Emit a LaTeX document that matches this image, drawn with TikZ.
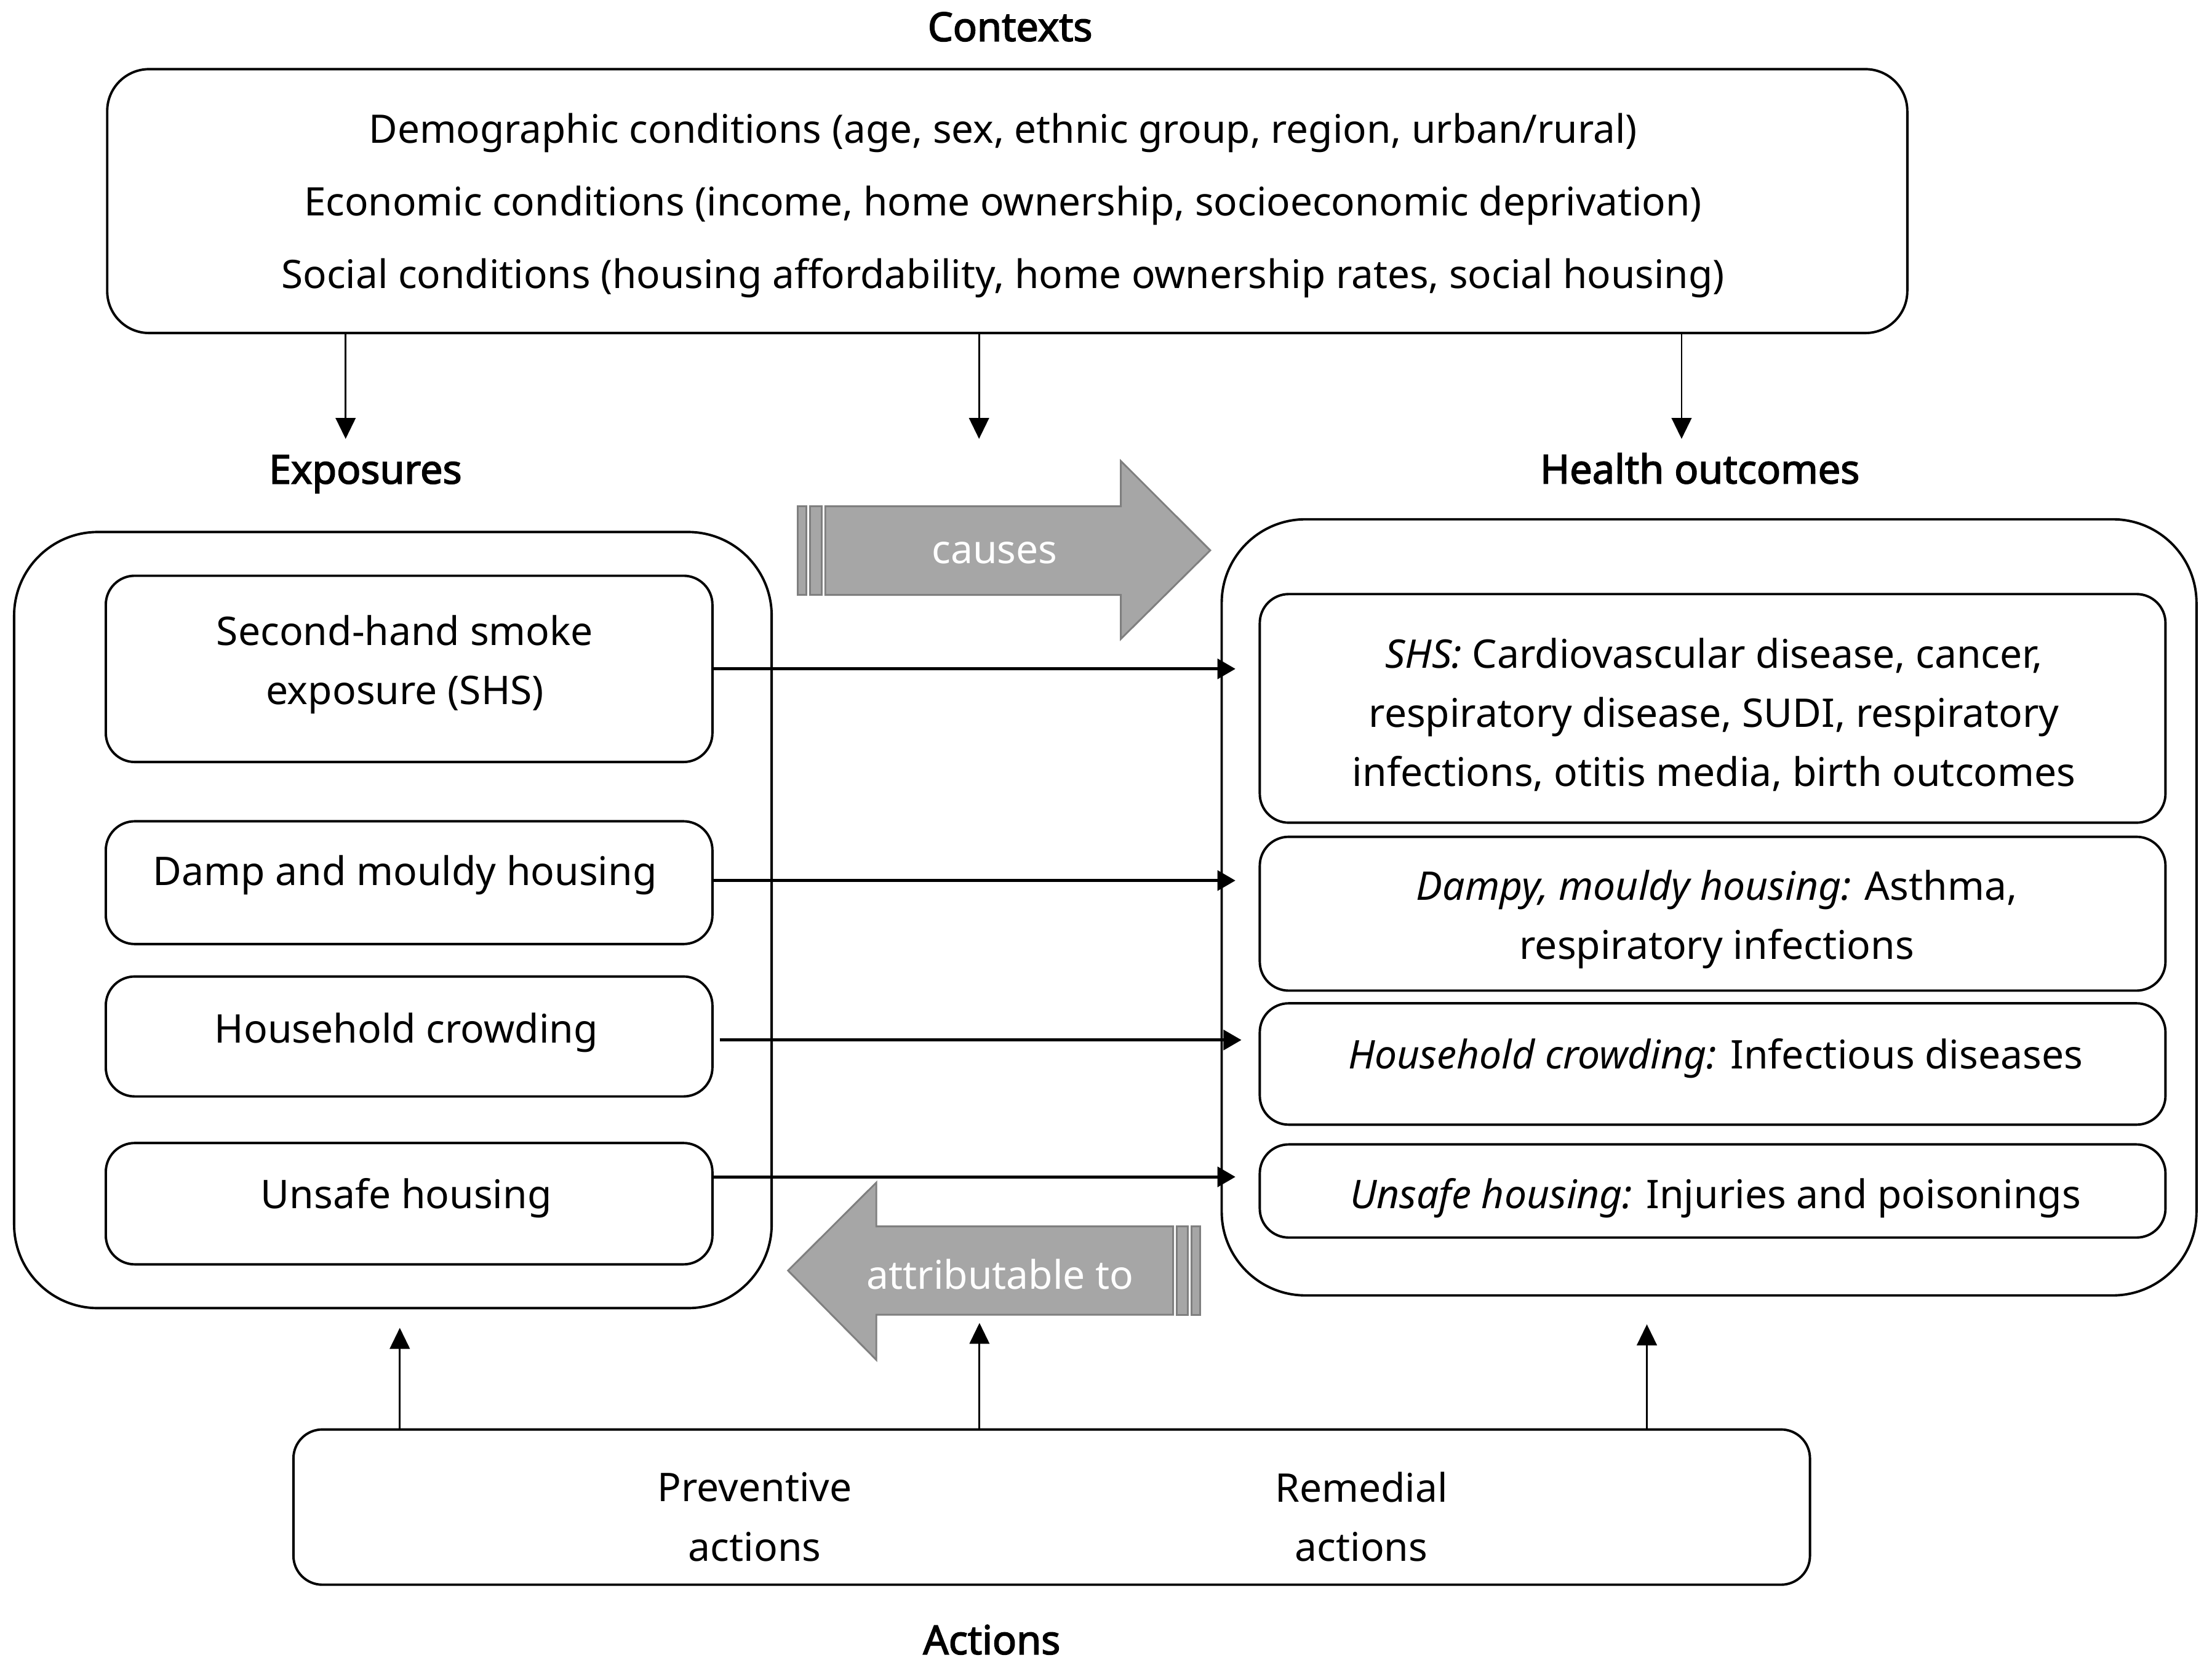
\documentclass[tikz,border=0pt]{standalone}
\usepackage{fontspec}
\setmainfont{Noto Sans}
\newfontfamily\ttlfont{Noto Sans}[FakeBold=2.5]
\usetikzlibrary{arrows.meta,calc}
\definecolor{arrfill}{HTML}{A6A6A6}
\definecolor{arredge}{HTML}{7F7F7F}
\def\un{0.0248724cm}
\newcommand{\itlab}[1]{{\itshape #1}}
\begin{document}
\begin{tikzpicture}[x=\un,y=-\un,
  every node/.style={font=\fontsize{19.8}{29.7}\selectfont, inner sep=0pt, align=center},
  sz/.style 2 args={minimum width=#1*\un, minimum height=#2*\un},
  box/.style={draw, line width=1.2pt, rounded corners=14.5pt},
  ctxbox/.style={draw, line width=1.2pt, rounded corners=21pt},
  bigbox/.style={draw, line width=1.2pt, rounded corners=42pt},
  ttl/.style={font=\fontsize{20}{24}\ttlfont},
  varrow/.style={line width=0.9pt, -{Triangle[length=10.5pt,width=10pt]}},
  harrow/.style={line width=1.5pt, -{Triangle[length=9pt,width=10pt]}, shorten >=-7.5pt},
  grayarrow/.style={fill=arrfill, draw=arredge, line width=0.9pt},
  graytext/.style={text=white}
]
\useasboundingbox (0,0) rectangle (1568,1178.5);

% titles
\node[ttl] (tctx) at (716,19) {Contexts};
\node[ttl] (texp) at (259,336) {Exposures};
\node[ttl] (thea) at (1205,332) {Health outcomes};
\node[ttl] (tact) at (703,1162) {Actions};

% context box
\node[ctxbox, sz={1276}{187}] (ctx) at (714,142.5) {};
\node[font=\fontsize{19.7}{36.4}\selectfont] (ctxt) at (711,145.5) {Demographic conditions (age, sex, ethnic group, region, urban/rural)\\
Economic conditions (income, home ownership, socioeconomic deprivation)\\
Social conditions (housing affordability, home ownership rates, social housing)};

% exposures
\node[bigbox, sz={537}{550}] (eout) at (278.5,652) {};
\node[box, sz={430}{132}] (e1) at (290,474) {};
\node[box, sz={430}{87}] (e2) at (290,625.5) {};
\node[box, sz={430}{85}] (e3) at (290,734.5) {};
\node[box, sz={430}{86}] (e4) at (290,853) {};
\node (e1t) at (287,471) {Second-hand smoke\\exposure (SHS)};
\node (e2t) at (287,620) {Damp and mouldy housing};
\node (e3t) at (288,732) {Household crowding};
\node (e4t) at (288,849) {Unsafe housing};

% health outcomes
\node[bigbox, sz={691}{550}] (hout) at (1211.5,643) {};
\node[box, sz={642}{162}] (h1) at (1214,502) {};
\node[box, sz={642}{109}] (h2) at (1214,647.5) {};
\node[box, sz={642}{86}] (h3) at (1214,754) {};
\node[box, sz={642}{66}] (h4) at (1214,844) {};
\node (h1t) at (1215,506.5) {\itlab{SHS:} Cardiovascular disease, cancer,\\respiratory disease, SUDI, respiratory\\infections, otitis media, birth outcomes};
\node (h2t) at (1217,651.5) {\itlab{Dampy, mouldy housing:} Asthma,\\respiratory infections};
\node (h3t) at (1216,750) {\itlab{Household crowding:} Infectious diseases};
\node (h4t) at (1216,849) {\itlab{Unsafe housing:} Injuries and poisonings};

% actions
\node[box, sz={1075}{110}] (act) at (745.5,1068) {};
\node (prev) at (535,1075) {Preventive\\actions};
\node (rem) at (965,1075) {Remedial\\actions};

% vertical arrows
\coordinate (d1) at (245,311);
\coordinate (d2) at (694,311);
\coordinate (d3) at (1192,311);
\draw[varrow] (ctx.south -| d1) -- (d1);
\draw[varrow] (ctx.south -| d2) -- (d2);
\draw[varrow] (ctx.south -| d3) -- (d3);
\coordinate (u1) at (283.4,941);
\coordinate (u2) at (694.3,937.5);
\coordinate (u3) at (1167.4,938.5);
\draw[varrow] (act.north -| u1) -- (u1);
\draw[varrow] (act.north -| u2) -- (u2);
\draw[varrow] (act.north -| u3) -- (u3);

% horizontal arrows
\coordinate (y1) at (0,474);
\coordinate (y2) at (0,624);
\coordinate (y3) at (0,737);
\coordinate (y4) at (0,834);
\draw[harrow] (e1.east |- y1) -- (hout.west |- y1);
\draw[harrow] (e2.east |- y2) -- (hout.west |- y2);
\draw[harrow] ([xshift=3pt]e3.east |- y3) -- ([xshift=3pt]hout.west |- y3);
\draw[harrow] (e4.east |- y4) -- (hout.west |- y4);

% causes arrow
\draw[grayarrow] (565.6,358.8) rectangle (571.6,421.6);
\draw[grayarrow] (574.2,358.8) rectangle (582.4,421.6);
\draw[grayarrow] (585,358.8) -- (794.5,358.8) -- (794.5,326.7) -- (857.9,390) -- (794.5,452.8) -- (794.5,421.6) -- (585,421.6) -- cycle;
\node[graytext] (causes) at (705,392) {causes};

% attributable arrow
\draw[grayarrow] (844.6,869.1) rectangle (850.7,931.7);
\draw[grayarrow] (834.2,869.1) rectangle (842,931.7);
\draw[grayarrow] (831.6,869.1) -- (621.2,869.1) -- (621.2,838) -- (558.6,900.4) -- (621.2,963.7) -- (621.2,931.7) -- (831.6,931.7) -- cycle;
\node[graytext] (attr) at (709,903) {attributable to};
\end{tikzpicture}
\end{document}
